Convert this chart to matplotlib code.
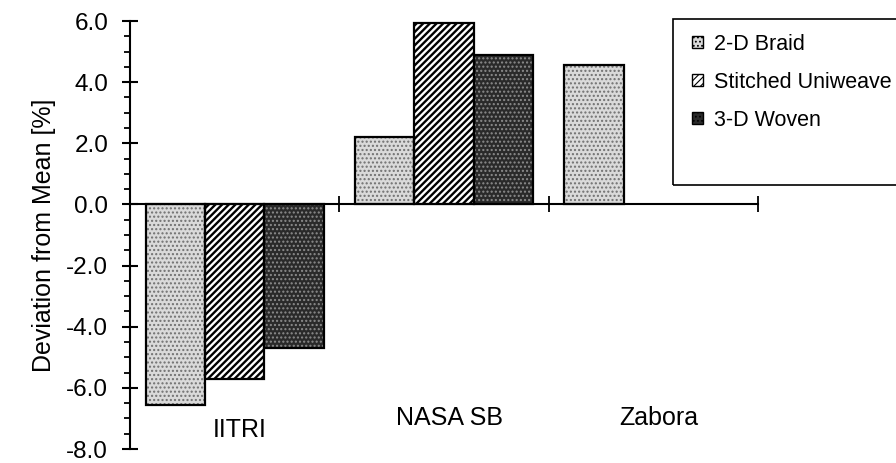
import matplotlib
matplotlib.use("Agg")
import matplotlib.pyplot as plt
import numpy as np
from matplotlib.ticker import MultipleLocator, FormatStrFormatter
from matplotlib.patches import Rectangle, Patch

plt.rcParams['font.family'] = ['Liberation Sans', 'DejaVu Sans']

categories = ["IITRI", "NASA SB", "Zabora"]
series_names = ["2-D Braid", "Stitched Uniweave", "3-D Woven"]
braid = [-6.55, 2.2, 4.55]
stitched = [-5.7, 5.95, np.nan]
woven = [-4.7, 4.9, np.nan]
yticks = [-8.0, -6.0, -4.0, -2.0, 0.0, 2.0, 4.0, 6.0]

W, H = 896, 463
fig = plt.figure(figsize=(W / 100, H / 100), dpi=100)
ax = fig.add_axes([130 / W, 1 - 449 / H, 628 / W, 428 / H])

series = [braid, stitched, woven]
faces = ['#dadada', 'white', '#2a2a2a']
hatches = ['....', '/////', '....']
hcolors = ['#707070', 'black', '#8c8c8c']
width = 0.283
x = np.arange(len(categories)) + 0.5
offsets = [-width, 0.0, width]
handles = []
for vals, fc, h, hc, off, name in zip(series, faces, hatches, hcolors, offsets, series_names):
    plt.rcParams['hatch.linewidth'] = 1.7 if h.startswith('/') else 1.0
    ax.bar(x + off, vals, width, facecolor=fc, edgecolor=hc, hatch=h,
           linewidth=0, zorder=2)
    ax.bar(x + off, vals, width, fill=False, edgecolor='black', linewidth=1.6, zorder=3)
    handles.append(Patch(facecolor=fc, edgecolor='black', hatch=h, linewidth=1.0))

ax.set_xlim(0, 3)
ax.set_ylim(-8, 6)
for s in ['top', 'right']:
    ax.spines[s].set_visible(False)
ax.spines['bottom'].set_position(('data', 0))
ax.spines['left'].set_linewidth(1.5)
ax.spines['bottom'].set_linewidth(1.5)
ax.spines['bottom'].set_zorder(4)

ax.set_yticks(yticks)
ax.yaxis.set_major_formatter(FormatStrFormatter('%.1f'))
ax.yaxis.set_minor_locator(MultipleLocator(0.5))
ax.tick_params(axis='y', which='major', direction='inout', length=11.5, width=1.5,
               labelsize=17.5, pad=10)
ax.tick_params(axis='y', which='minor', direction='out', length=4.5, width=1.3)
ax.set_xticks([1, 2, 3])
ax.set_xticklabels([])
ax.tick_params(axis='x', which='major', direction='inout', length=11.5, width=1.3)
ax.set_ylabel("Deviation from Mean [%]", fontsize=18, labelpad=7)

label_y = [-7.6, -7.22, -7.22]
for i, (cat, ly) in enumerate(zip(categories, label_y)):
    ax.text(x[i] + 0.025, ly, cat, ha='center', va='baseline', fontsize=18)

# legend frame (extends past the right edge like the reference)
fig.patches.append(Rectangle((673 / W, 1 - 185 / H), 240 / W, 166 / H,
                             transform=fig.transFigure, fill=False,
                             edgecolor='black', linewidth=1.2))
plt.rcParams['hatch.linewidth'] = 0.8
leg = fig.legend(handles, series_names, loc='upper left',
                 bbox_to_anchor=(692 / W, 1 - 34 / H), fontsize=15.5,
                 frameon=False, handlelength=0.5, handleheight=0.5,
                 handletextpad=0.5, labelspacing=0.78, borderpad=0,
                 borderaxespad=0)

fig.savefig("out.png", dpi=100)
